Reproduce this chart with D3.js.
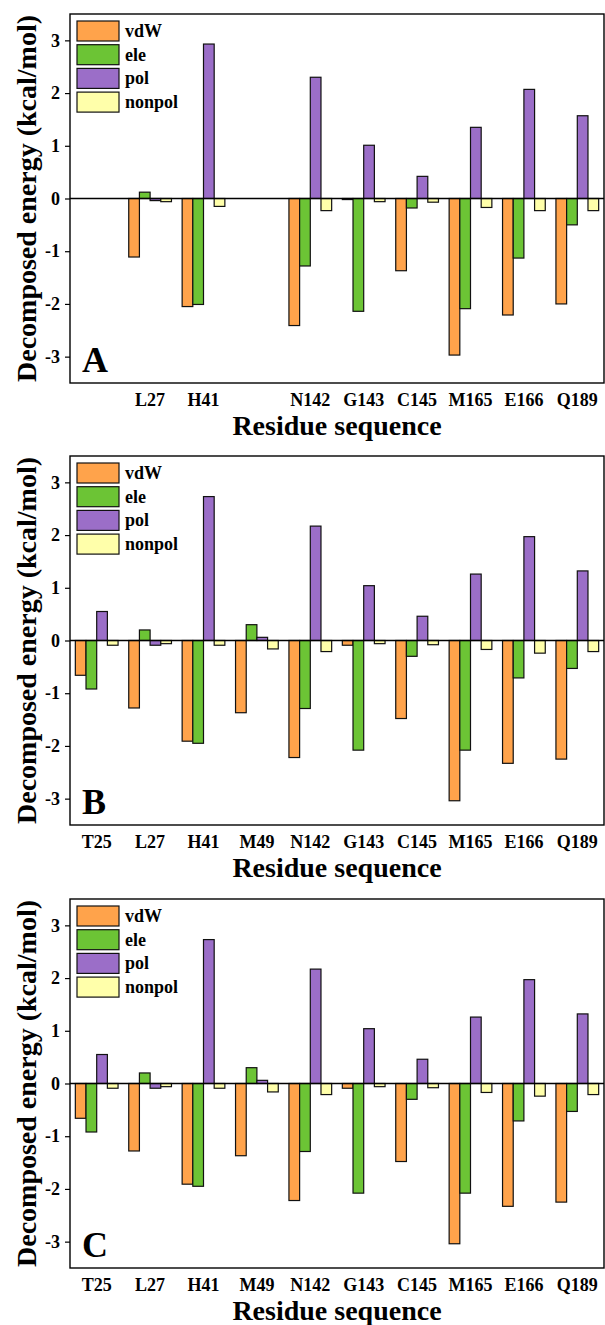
<!DOCTYPE html>
<html>
<head>
<meta charset="utf-8">
<script src="https://cdn.jsdelivr.net/npm/d3@7"></script>
<style>
  html, body { margin: 0; padding: 0; background: #fff; }
  svg { display: block; }
</style>
</head>
<body>
<svg id="fig" width="605" height="1325"></svg>
<script>
// Residue slots shared by all three panels
const residues = ["T25", "L27", "H41", "M49", "N142", "G143", "C145", "M165", "E166", "Q189"];
const seriesNames = ["vdW", "ele", "pol", "nonpol"];
const seriesColors = ["#ffa34b", "#6cc435", "#9b6ec8", "#ffffaa"];
const yTicks = [-3, -2, -1, 0, 1, 2, 3];

// Panel A (T25 and M49 not present)
const vdwA    = [null, -1.11, -2.05, null, -2.41, -0.02, -1.37, -2.97, -2.21, -2.00];
const eleA    = [null,  0.12, -2.01, null, -1.28, -2.14, -0.18, -2.09, -1.13, -0.50];
const polA    = [null, -0.04,  2.93, null,  2.30,  1.01,  0.42,  1.35,  2.07,  1.57];
const nonpolA = [null, -0.06, -0.15, null, -0.23, -0.06, -0.07, -0.17, -0.23, -0.23];

// Panel B
const vdwB    = [-0.66, -1.28, -1.91, -1.37, -2.22, -0.09, -1.48, -3.04, -2.33, -2.25];
const eleB    = [-0.92,  0.20, -1.95,  0.30, -1.29, -2.08, -0.30, -2.08, -0.71, -0.53];
const polB    = [ 0.55, -0.09,  2.73,  0.06,  2.17,  1.04,  0.46,  1.26,  1.97,  1.32];
const nonpolB = [-0.09, -0.06, -0.09, -0.16, -0.21, -0.06, -0.08, -0.17, -0.24, -0.21];

// Panel C
const vdwC    = [-0.66, -1.28, -1.91, -1.37, -2.22, -0.09, -1.48, -3.04, -2.33, -2.25];
const eleC    = [-0.92,  0.20, -1.95,  0.30, -1.29, -2.08, -0.30, -2.08, -0.71, -0.53];
const polC    = [ 0.55, -0.09,  2.73,  0.06,  2.17,  1.04,  0.46,  1.26,  1.97,  1.32];
const nonpolC = [-0.09, -0.06, -0.09, -0.16, -0.21, -0.06, -0.08, -0.17, -0.24, -0.21];

const panels = [
  { tag: "A", top: 14,  series: [vdwA, eleA, polA, nonpolA] },
  { tag: "B", top: 456, series: [vdwB, eleB, polB, nonpolB] },
  { tag: "C", top: 899, series: [vdwC, eleC, polC, nonpolC] }
];

const FONT = "'Liberation Serif', 'Times New Roman', serif";
const styleText = sel => sel
  .style("font-family", FONT)
  .style("font-weight", "bold")
  .style("fill", "#000");

const svg = d3.select("#fig");
svg.append("rect").attr("width", 605).attr("height", 1325).attr("fill", "#fff");

const left = 70, right = 604, plotH = 369;

const x = d3.scaleBand().domain(residues).range([left, right])
  .paddingInner(0.2).paddingOuter(0.1);
const xs = d3.scaleBand().domain(seriesNames).range([0, x.bandwidth()]).padding(0);

panels.forEach(p => {
  const g = svg.append("g");
  const y = d3.scaleLinear().domain([-3.5, 3.5]).range([p.top + plotH, p.top]);

  // residues that carry data in this panel
  const present = residues.filter((r, i) => p.series.some(s => s[i] !== null));

  // bars
  p.series.forEach((vals, si) => {
    const rows = residues.map((r, i) => ({ r, v: vals[i] })).filter(d => d.v !== null);
    g.append("g").selectAll("rect").data(rows).join("rect")
      .attr("x", d => x(d.r) + xs(seriesNames[si]))
      .attr("width", xs.bandwidth())
      .attr("y", d => y(Math.max(0, d.v)))
      .attr("height", d => Math.abs(y(d.v) - y(0)))
      .attr("fill", seriesColors[si])
      .attr("stroke", "#111")
      .attr("stroke-width", 1.2);
  });

  // zero line
  g.append("line")
    .attr("x1", left).attr("x2", right)
    .attr("y1", y(0)).attr("y2", y(0))
    .attr("stroke", "#000").attr("stroke-width", 1.4);

  // frame
  g.append("rect")
    .attr("x", left).attr("y", p.top)
    .attr("width", right - left).attr("height", plotH)
    .attr("fill", "none").attr("stroke", "#000").attr("stroke-width", 1.4);

  // y axis
  const ya = g.append("g").attr("transform", `translate(${left},0)`)
    .call(d3.axisLeft(y).tickValues(yTicks).tickFormat(d => String(d))
      .tickSize(5).tickPadding(5));
  ya.select(".domain").remove();
  ya.selectAll("line").attr("stroke", "#000").attr("stroke-width", 1.2);
  ya.selectAll("text").call(styleText).style("font-size", "18px");

  // x axis
  const xa = g.append("g").attr("transform", `translate(0,${p.top + plotH})`)
    .call(d3.axisBottom(x).tickSize(0).tickPadding(10)
      .tickFormat(d => present.includes(d) ? d : ""));
  xa.select(".domain").remove();
  xa.selectAll("text").call(styleText).style("font-size", "18px");

  // axis titles
  g.append("text")
    .attr("x", (left + right) / 2).attr("y", p.top + plotH + 52)
    .attr("text-anchor", "middle")
    .call(styleText).style("font-size", "28px")
    .text("Residue sequence");

  g.append("text")
    .attr("transform", `translate(36,${p.top + plotH / 2}) rotate(-90)`)
    .attr("text-anchor", "middle")
    .call(styleText).style("font-size", "28px")
    .text("Decomposed energy (kcal/mol)");

  // panel tag
  g.append("text")
    .attr("x", 82).attr("y", p.top + 357.5)
    .call(styleText).style("font-size", "36px")
    .text(p.tag);

  // legend
  const lg = g.append("g").attr("transform", `translate(77,${p.top + 7})`);
  seriesNames.forEach((name, i) => {
    lg.append("rect")
      .attr("x", 0).attr("y", i * 23.7)
      .attr("width", 42).attr("height", 20)
      .attr("fill", seriesColors[i]).attr("stroke", "#111").attr("stroke-width", 1.2);
    lg.append("text")
      .attr("x", 48).attr("y", i * 23.7 + 16)
      .call(styleText).style("font-size", "18px")
      .text(name);
  });
});
</script>
</body>
</html>
